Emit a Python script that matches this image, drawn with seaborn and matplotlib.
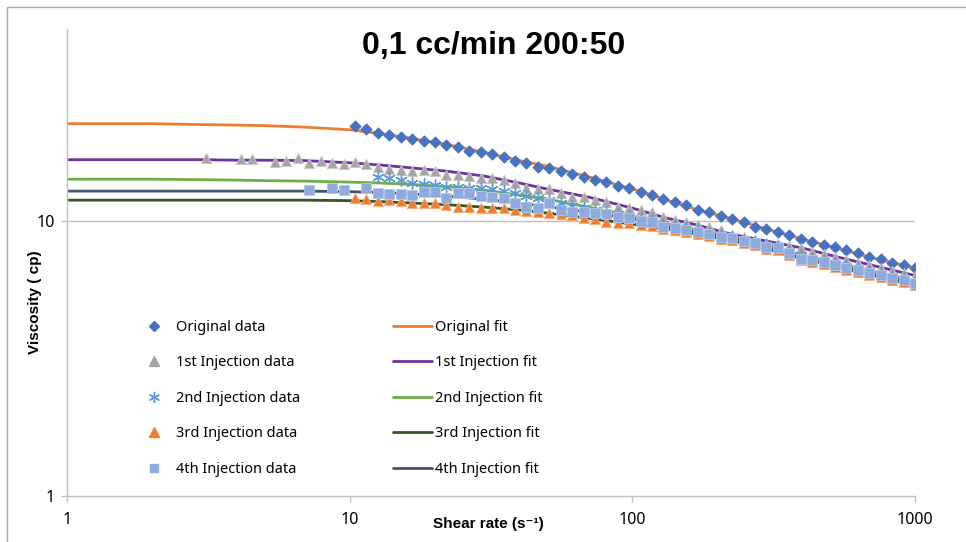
import numpy as np
import pandas as pd
import matplotlib
matplotlib.use("Agg")
import matplotlib.pyplot as plt
from matplotlib.lines import Line2D
from matplotlib.patches import Rectangle
import seaborn as sns

nan = np.nan

# ---------------- data ----------------
shear_rate = [3.113, 3.417, 3.751, 4.116, 4.518, 4.959, 5.442, 5.973, 6.555, 7.196,
              7.898, 8.669, 9.515, 10.44, 11.46, 12.58, 13.81, 15.16, 16.63, 18.26,
              20.04, 21.99, 24.14, 26.49, 29.08, 31.92, 35.03, 38.44, 42.21, 46.32,
              50.83, 55.79, 61.24, 67.21, 73.77, 80.97, 88.87, 97.52, 107.1, 117.5,
              128.9, 141.5, 155.4, 170.5, 187.2, 205.5, 225.4, 247.4, 271.5, 298.1,
              327.1, 359.0, 394.1, 432.5, 474.7, 521.2, 571.9, 627.7, 688.9, 756.2,
              829.8, 910.9, 1000.0]

original_data = [nan] * 13 + [
    22.2, 21.6, 20.9, 20.5, 20.2, 19.9, 19.5, 19.4, 18.9, 18.6,
    18.0, 17.8, 17.5, 17.1, 16.5, 16.3, 15.8, 15.6, 15.2, 14.9,
    14.5, 14.1, 13.9, 13.4, 13.2, 12.8, 12.4, 12.0, 11.7, 11.4,
    11.0, 10.8, 10.4, 10.2, 9.92, 9.51, 9.35, 9.12, 8.89, 8.60,
    8.39, 8.18, 8.04, 7.85, 7.65, 7.40, 7.27, 7.04, 6.92, 6.75]

inj1_data = [16.95, nan, nan, 16.81, 16.81, nan, 16.39, 16.53, 16.95, 16.25,
             16.53, 16.25, 16.12,
             16.39, 16.12, 15.71, 15.44, 15.33, 15.20, 15.33, 15.20, 14.70, 14.70,
             14.58, 14.33, 14.33, 14.10, 13.75, 13.18, 13.07, 13.07, 12.64, 12.23,
             12.23, 11.92, 11.72, 11.24, 11.15, 10.97, 10.78, 10.34, 10.08, 9.92,
             9.67, 9.51, 9.27, 8.89, 8.74, 8.53, 8.32, 8.25, 8.11, 7.98,
             7.71, 7.58, 7.40, 7.21, 7.04, 6.92, 6.75, 6.58, 6.47, 6.31]

inj2_data = [nan] * 15 + [
    14.45, 14.33, 14.10, 13.75, 13.63, 13.52, 13.29, 13.29, 13.18, 13.18,
    13.07, 12.86, 12.64, 12.33, 12.12, 11.92, 11.62, 11.34, 11.15, 10.97,
    10.78, 10.61, 10.43, 10.17, 10.00, 9.75, 9.59, 9.43, 9.27, 9.04,
    8.89, 8.74, 8.53, 8.39, 8.18, 8.04, 7.78, 7.52, 7.28, 7.21,
    7.04, 6.86, 6.75, 6.57, 6.47, 6.31, 6.20, 6.03]

inj3_data = [nan] * 13 + [
    12.12, 12.02, 11.82, 11.92, 11.82, 11.62, 11.62, 11.62, 11.43, 11.24,
    11.24, 11.15, 11.15, 11.15, 10.97, 10.87, 10.78, 10.70, 10.61, 10.52,
    10.25, 10.17, 9.92, 9.83, 9.83, 9.70, 9.62, 9.35, 9.27, 9.12,
    8.96, 8.82, 8.60, 8.53, 8.32, 8.18, 7.91, 7.84, 7.52, 7.21,
    7.10, 6.98, 6.81, 6.63, 6.52, 6.36, 6.25, 6.10, 6.00, 5.85]

inj4_data = [nan] * 9 + [12.96, nan, 13.18, 12.96, nan] + [
    13.18, 12.64, 12.54, 12.54, 12.43, 12.75, 12.75, 12.12, 12.64, 12.64,
    12.33, 12.28, 12.12, 11.62, 11.24, 11.15, 11.62, 10.97, 10.78, 10.78,
    10.70, 10.61, 10.34, 10.25, 10.00, 9.92, 9.51, 9.43, 9.27, 9.12,
    8.96, 8.74, 8.67, 8.46, 8.32, 8.04, 7.98, 7.65, 7.28, 7.21,
    7.10, 6.92, 6.75, 6.63, 6.47, 6.36, 6.20, 6.10, 5.95]

fit_shear = [1, 1.5, 2, 3, 4, 5, 7, 10, 13, 17, 22, 30, 40, 50, 70, 100,
             130, 170, 220, 300, 400, 500, 700, 1000]
original_fit = [22.62, 22.62, 22.62, 22.45, 22.35, 22.25, 21.97, 21.5, 20.8, 19.9,
                19.0, 17.8, 16.6, 15.85, 14.5, 13.1, 12.0, 11.0, 10.25, 9.35,
                8.6, 8.1, 7.37, 6.75]
inj1_fit = [16.73, 16.73, 16.73, 16.73, 16.66, 16.66, 16.60, 16.3, 15.98, 15.58,
            15.2, 14.58, 13.75, 13.08, 12.23, 11.15, 10.30, 9.67, 9.0, 8.45,
            7.98, 7.52, 6.92, 6.34]
inj2_fit = [14.21, 14.21, 14.21, 14.15, 14.10, 14.04, 13.98, 13.87, 13.75, 13.58,
            13.35, 12.96, 12.43, 12.02, 11.24, 10.43, 9.83, 9.27, 8.82, 8.21,
            7.52, 7.15, 6.58, 6.05]
inj3_fit = [11.92, 11.92, 11.92, 11.92, 11.92, 11.92, 11.92, 11.87, 11.77, 11.62,
            11.48, 11.24, 10.97, 10.70, 10.25, 9.75, 9.40, 8.96, 8.53, 7.91,
            7.28, 6.95, 6.36, 5.85]
inj4_fit = [12.86, 12.86, 12.86, 12.86, 12.86, 12.86, 12.86, 12.80, 12.70, 12.54,
            12.33, 12.02, 11.62, 11.29, 10.78, 10.21, 9.59, 9.12, 8.71, 8.04,
            7.3, 7.0, 6.45, 5.95]

data_labels = ["Original data", "1st Injection data", "2nd Injection data",
               "3rd Injection data", "4th Injection data"]
fit_labels = ["Original fit", "1st Injection fit", "2nd Injection fit",
              "3rd Injection fit", "4th Injection fit"]
title = "0,1 cc/min 200:50"
x_ticks = [1, 10, 100, 1000]
x_ticklabels = ["1", "10", "100", "1000"]
y_ticks = [1, 10]
y_ticklabels = ["1", "10"]

# ---------------- style ----------------
sns.set_theme(style="white")
plt.rcParams["font.family"] = ["Noto Sans", "DejaVu Sans"]
plt.rcParams["text.color"] = "black"
plt.rcParams["axes.labelcolor"] = "black"
BOLD = ["Liberation Sans", "DejaVu Sans"]

W, H = 966, 542
fig = plt.figure(figsize=(W / 100, H / 100), dpi=100)
fig.patch.set_facecolor("white")
ax = fig.add_axes([67 / W, 1 - 496 / H, (915 - 67) / W, (496 - 29) / H])
ax.set_xscale("log")
ax.set_yscale("log")

fit_colors = ["#ED7D31", "#7030A0", "#70AD47", "#375623", "#44546A"]
fits = [original_fit, inj1_fit, inj2_fit, inj3_fit, inj4_fit]
for vals, c in zip(fits, fit_colors):
    sns.lineplot(x=fit_shear, y=vals, color=c, linewidth=2.0, ax=ax,
                 estimator=None, sort=False, legend=False, zorder=2)

data_sets = [original_data, inj1_data, inj2_data, inj3_data, inj4_data]
data_styles = [
    dict(marker="D", s=34, color="#4472C4", edgecolor="#4472C4", linewidth=0.5),
    dict(marker="^", s=55, color="#A5A5A5", edgecolor="#C8C8C8", linewidth=0.6),
    dict(marker=(6, 2, 0), s=70, color="#5B9BD5", edgecolor="#5B9BD5", linewidth=1.0),
    dict(marker="^", s=55, color="#ED7D31", edgecolor="#F4B183", linewidth=0.6),
    dict(marker="s", s=50, color="#8FAADC", edgecolor="#B4C7E7", linewidth=0.6),
]
for vals, st in zip(data_sets, data_styles):
    df = pd.DataFrame({"x": shear_rate, "y": vals}).dropna()
    sns.scatterplot(data=df, x="x", y="y", ax=ax, legend=False, zorder=3, **st)

ax.set_xlim(1, 1000)
ax.set_ylim(1, 50)
ax.set_xticks(x_ticks)
ax.set_xticklabels(x_ticklabels)
ax.set_yticks(y_ticks)
ax.set_yticklabels(y_ticklabels)
ax.minorticks_off()
ax.tick_params(axis="both", which="major", length=4.5, width=1, color="#BFBFBF",
               labelsize=11.5, labelcolor="#000000", direction="out")
ax.tick_params(axis="x", pad=7)
ax.tick_params(axis="y", pad=4)
ax.tick_params(left=True, bottom=True)
for s in ["top", "right"]:
    ax.spines[s].set_visible(False)
for s in ["left", "bottom"]:
    ax.spines[s].set_color("#BFBFBF")
    ax.spines[s].set_linewidth(1)
ax.grid(False)
ax.axhline(10, color="#BFBFBF", linewidth=1, zorder=1)

ax.set_xlabel("Shear rate (s\u207b\u00b9)", fontsize=11, fontweight="bold", family=BOLD,
              color="black")
ax.set_ylabel("Viscosity ( cp)", fontsize=11, fontweight="bold", family=BOLD,
              color="black")
ax.yaxis.set_label_coords(-0.029, 0.415)
ax.xaxis.set_label_coords(0.497, -0.045)

fig.text(494 / W, 1 - 46 / H, title, fontsize=23, fontweight="bold", family=BOLD,
         ha="center", va="center", color="black")

# legends
data_handles = [
    Line2D([], [], linestyle="none", marker="D", markersize=5, color="#4472C4"),
    Line2D([], [], linestyle="none", marker="^", markersize=7, color="#A5A5A5"),
    Line2D([], [], linestyle="none", marker=(6, 2, 0), markersize=8,
           color="#5B9BD5", markeredgewidth=1),
    Line2D([], [], linestyle="none", marker="^", markersize=7, color="#ED7D31"),
    Line2D([], [], linestyle="none", marker="s", markersize=6, color="#8FAADC"),
]
fit_handles = [Line2D([], [], color=c, linewidth=2) for c in fit_colors]
common = dict(frameon=False, fontsize=10.5, handlelength=2.7, handletextpad=0.2,
              labelspacing=1.4, borderpad=0, borderaxespad=0, loc="upper left",
              bbox_transform=fig.transFigure, labelcolor="black")
leg1 = ax.legend(data_handles, data_labels, bbox_to_anchor=(134 / W, 1 - 320 / H), **common)
ax.add_artist(leg1)
leg2 = ax.legend(fit_handles, fit_labels, bbox_to_anchor=(393 / W, 1 - 320 / H), **common)

# outer chart border (left and top edges visible in the crop)
fig.add_artist(Rectangle((7 / W, -0.5), 2, 1.5 - 7 / H, transform=fig.transFigure,
                         fill=False, edgecolor="#A6A6A6", linewidth=1))

fig.savefig("out.png", dpi=100, facecolor="white")
